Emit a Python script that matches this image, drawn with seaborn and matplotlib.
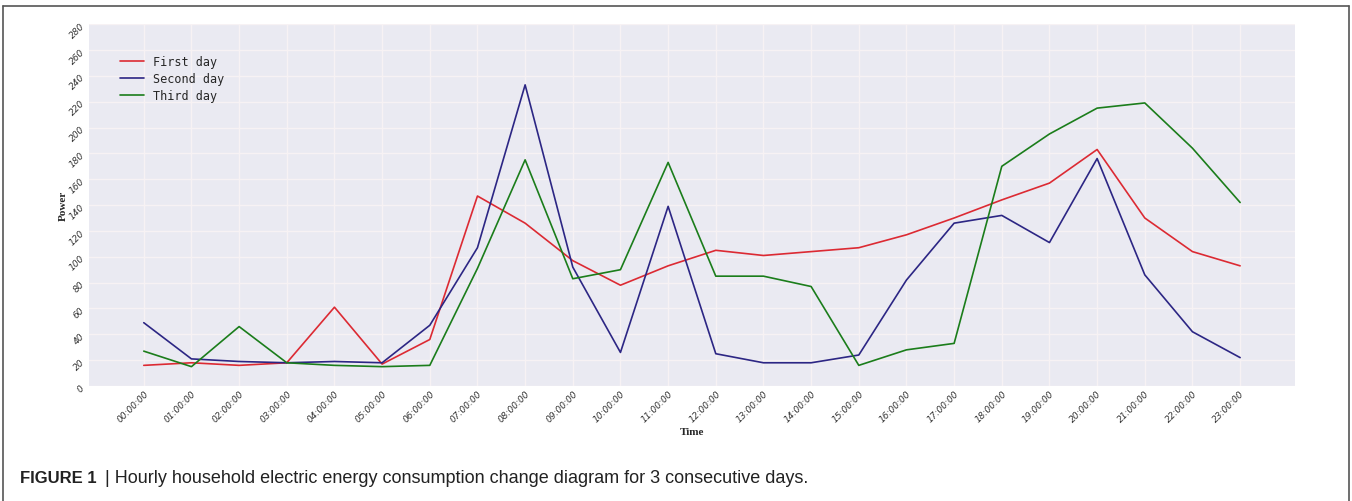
import matplotlib
matplotlib.use("Agg")
import matplotlib.pyplot as plt
import seaborn as sns
import pandas as pd
from matplotlib.lines import Line2D

hours = [f"{h:02d}:00:00" for h in range(24)]
first_day = [16, 18, 16, 18, 61, 17, 36, 147, 126, 97, 78, 93, 105, 101, 104, 107,
             117, 130, 144, 157, 183, 130, 104, 93]
second_day = [49, 21, 19, 18, 19, 18, 47, 107, 233, 92, 26, 139, 25, 18, 18, 24,
              82, 126, 132, 111, 176, 86, 42, 22]
third_day = [27, 15, 46, 18, 16, 15, 16, 91, 175, 83, 90, 173, 85, 85, 77, 16,
             28, 33, 170, 195, 215, 219, 184, 142]
day_names = ["First day", "Second day", "Third day"]
day_colors = ["#dc2a33", "#2c2684", "#1b7d1b"]

df = pd.DataFrame({
    "Time": hours * 3,
    "Power": first_day + second_day + third_day,
    "Day": [d for d in day_names for _ in hours],
})

sns.set_theme(style="darkgrid")
plt.rcParams["font.family"] = ["DejaVu Sans"]

fig = plt.figure(figsize=(13.52, 5.02), dpi=100)
ax = fig.add_axes([0.0658, 0.229, 0.892, 0.721])
ax.set_facecolor("#eaeaf2")

sns.lineplot(data=df, x="Time", y="Power", hue="Day", palette=day_colors,
             linewidth=1.2, ax=ax, sort=False)

ax.set_ylim(0, 280)
ax.set_yticks(range(0, 281, 20))
ax.set_xlim(-1.15, 24.15)
ax.grid(True, color="#f7f2f4", linewidth=1)
for s in ax.spines.values():
    s.set_visible(False)

ax.tick_params(axis="both", length=0, pad=2, labelsize=6.5, labelcolor="#333333")
for lbl in ax.get_xticklabels():
    lbl.set_rotation(45)
    lbl.set_ha("right")
    lbl.set_rotation_mode("anchor")
    lbl.set_fontstyle("italic")
for lbl in ax.get_yticklabels():
    lbl.set_rotation(45)
    lbl.set_fontstyle("italic")

ax.set_xlabel("Time", fontfamily="Liberation Serif", fontweight="bold", fontsize=8, labelpad=2)
ax.set_ylabel("Power", fontfamily="Liberation Serif", fontweight="bold", fontsize=8, labelpad=0)

handles = [Line2D([], [], color=c, linewidth=1.2) for c in day_colors]
ax.legend(handles, day_names, loc="upper left", bbox_to_anchor=(0.017, 0.944),
          frameon=False, prop={"family": "DejaVu Sans Mono", "size": 8.5},
          handlelength=2.0, labelspacing=0.35)

# figure border (left, top, right)
border = dict(color="#555555", linewidth=1.2, transform=fig.transFigure)
fig.add_artist(Line2D([0.0025, 0.0025], [0, 0.986], **border))
fig.add_artist(Line2D([0.0025, 0.9975], [0.986, 0.986], **border))
fig.add_artist(Line2D([0.9975, 0.9975], [0, 0.986], **border))

fig.text(0.0148, 0.038, "FIGURE 1", fontfamily="Liberation Sans", fontweight="bold",
         fontsize=12, color="#222222")
fig.text(0.0775, 0.038, "| Hourly household electric energy consumption change diagram for 3 consecutive days.",
         fontfamily="Liberation Sans", fontsize=13, color="#222222")

fig.savefig("out.png", dpi=100)
